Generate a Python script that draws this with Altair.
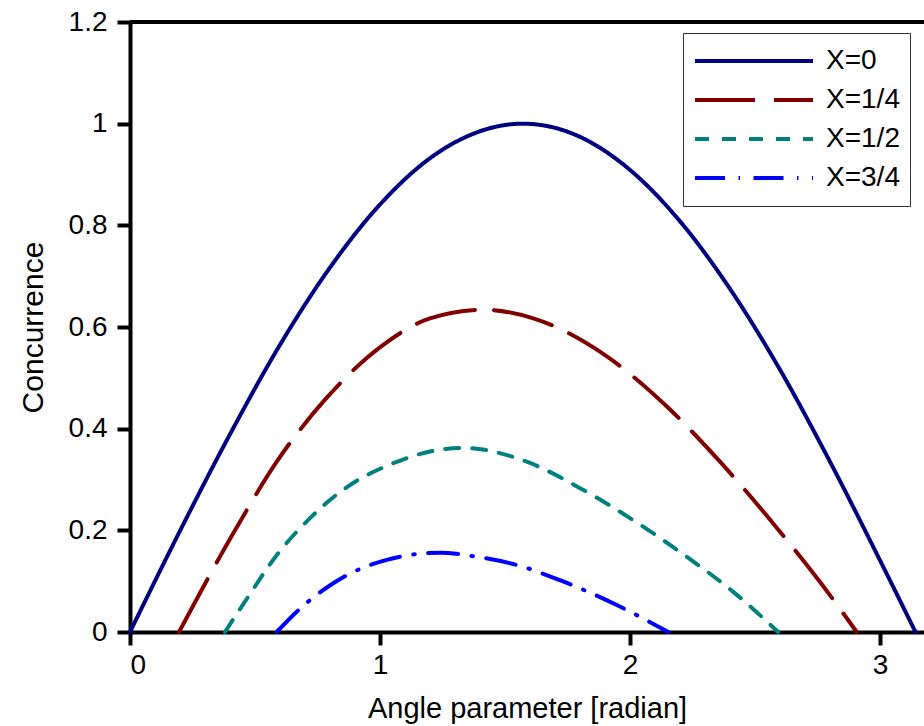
import altair as alt
import pandas as pd

series_names = ["X=0", "X=1/4", "X=1/2", "X=3/4"]
series_colors = ["#000080", "#800000", "#008080", "#0000ff"]
series_dashes = [[1, 0], [60, 19], [14, 13], [30, 13.5, 1.5, 13.5]]

theta_x0 = [0.0, 0.2, 0.4, 0.6, 0.8, 1.0, 1.2, 1.4, 1.571, 1.8, 2.0, 2.2, 2.4, 2.6, 2.8, 3.0, 3.142]
conc_x0 = [0.0, 0.199, 0.389, 0.565, 0.717, 0.841, 0.932, 0.985, 1.0, 0.974, 0.909, 0.808, 0.675, 0.516, 0.335, 0.141, 0.0]

theta_x14 = [0.196, 0.3, 0.42, 0.587, 0.78, 1.013, 1.2, 1.413, 1.613, 1.893, 2.14, 2.36, 2.567, 2.767, 2.907]
conc_x14 = [0.0, 0.095, 0.20, 0.335, 0.457, 0.565, 0.617, 0.634, 0.617, 0.547, 0.447, 0.335, 0.217, 0.094, 0.0]

theta_x12 = [0.38, 0.46, 0.593, 0.72, 0.853, 1.053, 1.26, 1.333, 1.587, 1.80, 2.013, 2.227, 2.413, 2.593]
conc_x12 = [0.0, 0.06, 0.155, 0.224, 0.28, 0.332, 0.36, 0.362, 0.335, 0.283, 0.22, 0.148, 0.079, 0.0]

theta_x34 = [0.587, 0.667, 0.813, 1.027, 1.24, 1.387, 1.56, 1.72, 1.947, 2.153]
conc_x34 = [0.0, 0.04, 0.096, 0.142, 0.156, 0.148, 0.13, 0.102, 0.053, 0.0]

x_ticks = [0, 1, 2, 3]
y_ticks = [0, 0.2, 0.4, 0.6, 0.8, 1.0, 1.2]
x_max = 3.176
y_max = 1.2

rows = []
for name, th, cc in zip(series_names,
                        [theta_x0, theta_x14, theta_x12, theta_x34],
                        [conc_x0, conc_x14, conc_x12, conc_x34]):
    for t, v in zip(th, cc):
        rows.append({"theta": t, "C": v, "series": name})
df = pd.DataFrame(rows)

FONT = "Liberation Sans"

x_scale = alt.Scale(domain=[0, x_max], nice=False, zero=False)
y_scale = alt.Scale(domain=[0, y_max], nice=False)


def make_legend():
    return alt.Legend(title=None, orient="none", legendX=553, legendY=11,
                      padding=10, fillColor="white", strokeColor="#333333",
                      symbolType="stroke", symbolSize=13924, clipHeight=36,
                      rowPadding=3, symbolStrokeWidth=4, labelFontSize=28,
                      labelFont=FONT, labelOffset=11, labelColor="black")


lines = alt.Chart(df).mark_line(strokeWidth=4, strokeCap="round", interpolate="monotone").encode(
    x=alt.X("theta:Q", scale=x_scale,
            axis=alt.Axis(title="Angle parameter [radian]", values=x_ticks, format="~g",
                          titleY=85, titleBaseline="alphabetic", titleFontSize=29)),
    y=alt.Y("C:Q", scale=y_scale,
            axis=alt.Axis(title="Concurrence", values=y_ticks, format="~g",
                          titleX=-88, titleY=305, titleAngle=270, titleFontSize=30,
                          titleAlign="center", titleBaseline="alphabetic")),
    color=alt.Color("series:N",
                    scale=alt.Scale(domain=series_names, range=series_colors),
                    legend=make_legend()),
    strokeDash=alt.StrokeDash("series:N",
                              scale=alt.Scale(domain=series_names, range=series_dashes),
                              legend=make_legend()),
    order=alt.Order("theta:Q"),
)

top_frame = alt.Chart(pd.DataFrame({"a": [0]})).mark_rule(color="black", strokeWidth=4).encode(
    x=alt.datum(0, scale=x_scale),
    x2=alt.datum(x_max),
    y=alt.datum(y_max, scale=y_scale),
)

chart = alt.layer(lines, top_frame).properties(
    width=794, height=610,
    autosize=alt.AutoSizeParams(type="none"),
    padding={"left": 130, "top": 22, "right": 0, "bottom": 94},
).configure_view(stroke=None).configure_axis(
    grid=False, domainColor="black", domainWidth=4, tickColor="black", tickWidth=4,
    tickSize=13, labelFont=FONT, labelFontSize=28, labelColor="black",
    titleFont=FONT, titleColor="black", titleFontWeight="normal",
).configure_axisX(labelPadding=6).configure_axisY(labelPadding=10)

chart.save("out.html", embed_options={"renderer": "svg", "actions": False})
